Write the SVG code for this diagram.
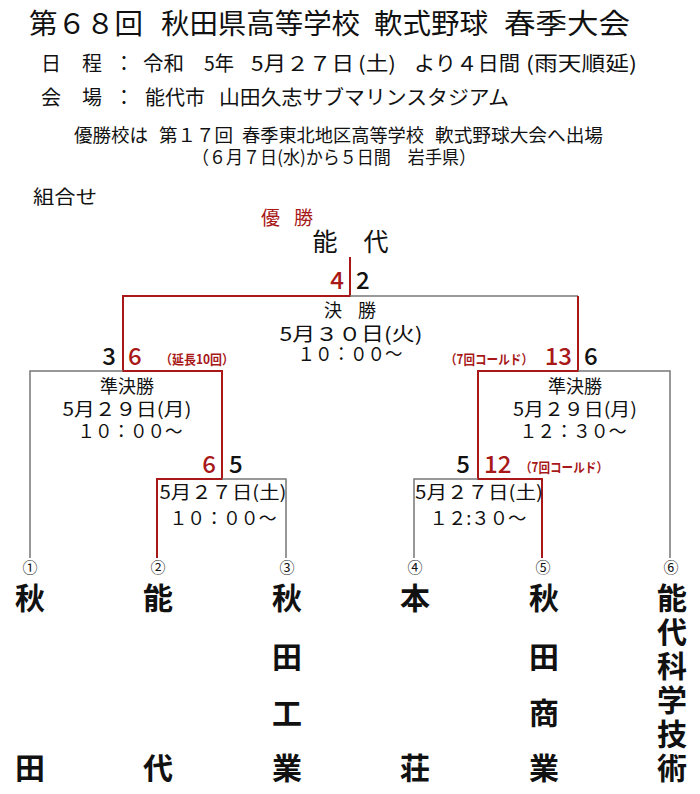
<svg xmlns="http://www.w3.org/2000/svg" width="700" height="794" viewBox="0 0 700 794">
<style>
text{font-family:"Noto Sans CJK JP","Noto Sans",sans-serif;fill:#111}
.r{fill:#a81818}
.c{text-anchor:middle}
.e{text-anchor:end}
.n{font-size:24px;font-weight:500}
.s{font-size:13px;font-weight:700}
.d{font-size:18px}
.h1{font-size:28px}
.h2{font-size:20px}
.h3{font-size:18px}
.sch{font-size:30px;font-weight:700;text-anchor:middle}
.cir{font-size:15px;text-anchor:middle}
.g{stroke:#777;stroke-width:1.5;fill:none}
.rl{stroke:#a81818;stroke-width:2;fill:none}
</style>
<rect width="700" height="794" fill="#fff"/>
<g id="header">
<text x="29" y="34" class="h1" textLength="114" lengthAdjust="spacingAndGlyphs">第６８回</text>
<text x="161" y="34" class="h1" textLength="199" lengthAdjust="spacingAndGlyphs">秋田県高等学校</text>
<text x="374" y="34" class="h1" textLength="114" lengthAdjust="spacingAndGlyphs">軟式野球</text>
<text x="504" y="34" class="h1" textLength="126" lengthAdjust="spacingAndGlyphs">春季大会</text>
<text x="41" y="71" class="h2">日</text>
<text x="82" y="71" class="h2">程</text>
<text x="124" y="71" class="h2 c">：</text>
<text x="143" y="71" class="h2" textLength="41" lengthAdjust="spacingAndGlyphs">令和</text>
<text x="204" y="71" class="h2" textLength="30" lengthAdjust="spacingAndGlyphs">5年</text>
<text x="251" y="71" class="h2" textLength="103" lengthAdjust="spacingAndGlyphs">5月２７日</text>
<text x="358" y="71" class="h2" textLength="38" lengthAdjust="spacingAndGlyphs">(土)</text>
<text x="414" y="71" class="h2" textLength="106" lengthAdjust="spacingAndGlyphs">より４日間</text>
<text x="526" y="71" class="h2" textLength="111" lengthAdjust="spacingAndGlyphs">(雨天順延)</text>
<text x="41" y="105" class="h2">会</text>
<text x="82" y="105" class="h2">場</text>
<text x="124" y="105" class="h2 c">：</text>
<text x="145" y="105" class="h2" textLength="60" lengthAdjust="spacingAndGlyphs">能代市</text>
<text x="219" y="105" class="h2" textLength="290" lengthAdjust="spacingAndGlyphs">山田久志サブマリンスタジアム</text>
<text x="74" y="142" class="h3" textLength="74" lengthAdjust="spacingAndGlyphs">優勝校は</text>
<text x="159" y="142" class="h3" textLength="74" lengthAdjust="spacingAndGlyphs">第１７回</text>
<text x="242" y="142" class="h3" textLength="182" lengthAdjust="spacingAndGlyphs">春季東北地区高等学校</text>
<text x="435" y="142" class="h3" textLength="168" lengthAdjust="spacingAndGlyphs">軟式野球大会へ出場</text>
<text x="192" y="164" class="h3" textLength="284" lengthAdjust="spacingAndGlyphs">（６月７日(水)から５日間　岩手県）</text>
<text x="33" y="204" font-size="19" textLength="64" lengthAdjust="spacingAndGlyphs">組合せ</text>
<text x="261" y="225" font-size="19" class="r" textLength="52" lengthAdjust="spacing">優 勝</text>
<text x="325" y="251" font-size="25" class="c">能</text>
<text x="376" y="251" font-size="25" class="c">代</text>
</g>
<g id="connectors">
<path class="rl" d="M350,257V296H123V371H222V479H157V558"/>
<path class="g" d="M350,296H578"/>
<path class="rl" d="M578,296V371H478V479H542V558"/>
<path class="g" d="M123,371H30V558"/>
<path class="g" d="M222,479H286V558"/>
<path class="g" d="M578,371H670V558"/>
<path class="g" d="M478,479H414V558"/>
</g>
<g id="final">
<text x="344" y="289" class="n r e">4</text>
<text x="356" y="289" class="n">2</text>
<text x="350" y="317" class="d c" textLength="52" lengthAdjust="spacing">決 勝</text>
<text x="351" y="341" font-size="19" class="c" textLength="143" lengthAdjust="spacingAndGlyphs">5月３０日(火)</text>
<text x="350" y="361" font-size="19" class="c" textLength="105" lengthAdjust="spacingAndGlyphs">１０：００～</text>
</g>
<g id="semi-left">
<text x="116" y="365" class="n e">3</text>
<text x="128" y="365" class="n r">6</text>
<text x="160" y="364" class="s r" textLength="74" lengthAdjust="spacingAndGlyphs">（延長10回）</text>
<text x="127" y="393" class="d c">準決勝</text>
<text x="127" y="416" font-size="18" class="c" textLength="129" lengthAdjust="spacingAndGlyphs">5月２９日(月)</text>
<text x="130" y="438" font-size="18" class="c" textLength="105" lengthAdjust="spacingAndGlyphs">１０：００～</text>
</g>
<g id="semi-right">
<text x="533" y="364" class="s r e" textLength="88" lengthAdjust="spacingAndGlyphs">（7回コールド）</text>
<text x="572" y="365" class="n r e">13</text>
<text x="584" y="365" class="n">6</text>
<text x="575" y="393" class="d c">準決勝</text>
<text x="575" y="416" font-size="18" class="c" textLength="124" lengthAdjust="spacingAndGlyphs">5月２９日(月)</text>
<text x="573" y="438" font-size="18" class="c" textLength="107" lengthAdjust="spacingAndGlyphs">１２：３０～</text>
</g>
<g id="r1-left">
<text x="216" y="473" class="n r e">6</text>
<text x="229" y="473" class="n">5</text>
<text x="223" y="499" font-size="18" class="c" textLength="127" lengthAdjust="spacingAndGlyphs">5月２７日(土)</text>
<text x="223" y="525" font-size="18" class="c" textLength="107" lengthAdjust="spacingAndGlyphs">１０：００～</text>
</g>
<g id="r1-right">
<text x="470" y="473" class="n e">5</text>
<text x="484" y="473" class="n r">12</text>
<text x="520" y="472" class="s r" textLength="88" lengthAdjust="spacingAndGlyphs">（7回コールド）</text>
<text x="479" y="499" font-size="18" class="c" textLength="128" lengthAdjust="spacingAndGlyphs">5月２７日(土)</text>
<text x="478" y="525" font-size="18" class="c" textLength="97" lengthAdjust="spacingAndGlyphs">１２:３０～</text>
</g>
<g id="team1"><text x="30" y="573" class="cir">①</text><text x="30" y="609" class="sch">秋</text><text x="30" y="779" class="sch">田</text></g>
<g id="team2"><text x="158" y="573" class="cir">②</text><text x="158" y="609" class="sch">能</text><text x="158" y="779" class="sch">代</text></g>
<g id="team3"><text x="287" y="573" class="cir">③</text><text x="287" y="609" class="sch">秋</text><text x="287" y="668" class="sch">田</text><text x="287" y="724" class="sch">工</text><text x="287" y="779" class="sch">業</text></g>
<g id="team4"><text x="415" y="573" class="cir">④</text><text x="415" y="609" class="sch">本</text><text x="415" y="779" class="sch">荘</text></g>
<g id="team5"><text x="543" y="573" class="cir">⑤</text><text x="544" y="609" class="sch">秋</text><text x="544" y="668" class="sch">田</text><text x="544" y="724" class="sch">商</text><text x="544" y="779" class="sch">業</text></g>
<g id="team6"><text x="671" y="573" class="cir">⑥</text><text x="672" y="609" class="sch">能</text><text x="672" y="643" class="sch">代</text><text x="672" y="677" class="sch">科</text><text x="672" y="711" class="sch">学</text><text x="672" y="745" class="sch">技</text><text x="672" y="779" class="sch">術</text></g>
</svg>
